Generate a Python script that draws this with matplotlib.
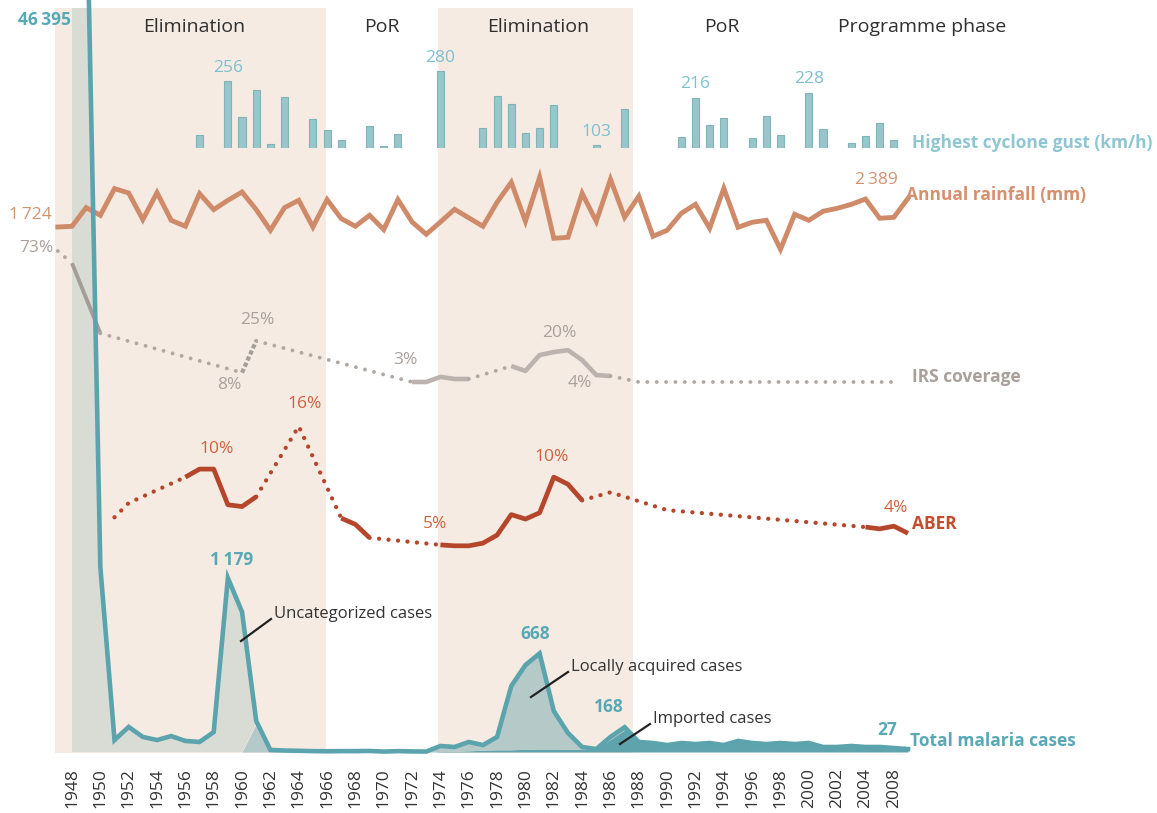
import numpy as np
import matplotlib
matplotlib.use("Agg")
import matplotlib.pyplot as plt
from matplotlib.lines import Line2D

plt.rcParams['font.family'] = ['Open Sans', 'DejaVu Sans']

# ---------------- data ----------------
rain_years = np.arange(1947, 2008)
rainfall_mm = [1724, 1741, 2185, 2002, 2636, 2532, 1900, 2541, 1883, 1741,
               2517, 2137, 2358, 2555, 2137, 1646, 2185, 2358, 1724, 2375,
               1923, 1741, 2002, 1662, 2375, 1843, 1551, 1843, 2144, 1942,
               1741, 2311, 2786, 1859, 2904, 1456, 1479, 2524, 1859, 2857,
               1954, 2453, 1503, 1646, 2049, 2263, 1693, 2643, 1717, 1836,
               1883, 1194, 2026, 1883, 2097, 2168, 2263, 2389, 1931, 1954,
               2406]

gust_years = [1957, 1959, 1960, 1961, 1962, 1963, 1965, 1966, 1967, 1969,
              1970, 1971, 1974, 1977, 1978, 1979, 1980, 1981, 1982, 1985,
              1987, 1991, 1992, 1993, 1994, 1996, 1997, 1998, 2000, 2001,
              2003, 2004, 2005, 2006]
gust_kmh = [127, 256, 170, 235, 106, 218, 166, 139, 115, 149,
            101, 130, 280, 144, 221, 202, 133, 144, 198, 103,
            190, 122, 216, 152, 169, 119, 172, 128, 228, 142,
            109, 124, 157, 114]
gust_labelled = [1959, 1974, 1985, 1992, 2000]

case_years = np.arange(1948, 2008)
total_cases = [46395, 6000, 1253, 81, 170, 102, 81, 108, 75, 68,
               135, 1179, 949, 210, 14, 10, 8, 6, 5, 6,
               6, 7, 3, 6, 4, 3, 41, 34, 68, 47,
               102, 447, 589, 668, 278, 129, 34, 20, 102, 168,
               68, 61, 47, 61, 54, 61, 47, 75, 61, 54,
               61, 54, 61, 34, 34, 41, 34, 34, 27, 20]
uncategorized = [46395, 6000, 1253, 81, 170, 102, 81, 108, 75, 68,
                 135, 1179, 949, 20, 0, 0, 0, 0, 0, 0,
                 0, 0, 0, 0, 0, 0, 0, 0, 0, 0,
                 0, 0, 0, 0, 0, 0, 0, 0, 0, 0,
                 0, 0, 0, 0, 0, 0, 0, 0, 0, 0,
                 0, 0, 0, 0, 0, 0, 0, 0, 0, 0]
locally_acquired = [0, 0, 0, 0, 0, 0, 0, 0, 0, 0,
                    0, 0, 0, 190, 14, 10, 8, 6, 5, 6,
                    6, 7, 3, 6, 4, 3, 38, 29, 60, 35,
                    87, 432, 571, 648, 258, 111, 14, 2, 17, 18,
                    0, 0, 0, 0, 0, 0, 0, 0, 0, 0,
                    0, 0, 0, 0, 0, 0, 0, 0, 0, 0]
imported_cases = [0, 0, 0, 0, 0, 0, 0, 0, 0, 0,
                  0, 0, 0, 0, 0, 0, 0, 0, 0, 0,
                  0, 0, 0, 0, 0, 0, 3, 5, 8, 12,
                  15, 15, 18, 20, 20, 18, 20, 18, 85, 150,
                  68, 61, 47, 61, 54, 61, 47, 75, 61, 54,
                  61, 54, 61, 34, 34, 41, 34, 34, 27, 20]

irs_years = [1947, 1948, 1950, 1960, 1961, 1972, 1973, 1974, 1975, 1976,
             1979, 1980, 1981, 1982, 1983, 1984, 1985, 1986, 1988, 2006]
irs_pct = [73, 66.5, 29, 8, 25, 3, 3, 5.7, 4.6, 4.6,
           11.5, 8.9, 17.4, 19, 20, 14.7, 6.7, 6.2, 3, 3]
irs_segment = ['dot', 'dark', 'dot', 'dash', 'dot', 'solid', 'solid', 'solid',
               'solid', 'dot', 'solid', 'solid', 'solid', 'solid', 'solid',
               'solid', 'solid', 'dot', 'dot']

aber_years = [1951, 1952, 1956, 1957, 1958, 1959, 1960, 1961, 1964, 1967,
              1968, 1969, 1974, 1975, 1976, 1977, 1978, 1979, 1980, 1981,
              1982, 1983, 1984, 1986, 1990, 2004, 2005, 2006, 2007]
aber_pct = [5.8, 7.4, 10.3, 11.2, 11.2, 7.2, 7.0, 8.1, 16.0, 5.7,
            5.0, 3.5, 2.7, 2.6, 2.6, 2.9, 3.8, 6.1, 5.6, 6.3,
            10.3, 9.5, 7.7, 8.6, 6.6, 4.7, 4.5, 4.8, 4.0]
aber_measured = [0, 0, 1, 1, 1, 1, 1, 1, 0, 1,
                 1, 1, 1, 1, 1, 1, 1, 1, 1, 1,
                 1, 1, 1, 0, 0, 1, 1, 1, 1]

phase_names = ['Elimination', 'PoR', 'Elimination', 'PoR', 'Programme phase']
elim_spans = [(1946.8, 1965.9), (1973.8, 1987.6)]

tick_years = list(range(1948, 2007, 2))
tick_labels = [str(y) for y in range(1948, 2005, 2)] + ['2008']

# ---------------- layout helpers ----------------
W, H = 1157, 813
fig = plt.figure(figsize=(W / 100, H / 100), dpi=100)
XL, XR = 1946.5, 2008.5
PXL = 72 - 1.5 * 14.17
PXR = 72 + 60.5 * 14.17


def add_ax(ytop, ybot):
    ax = fig.add_axes([PXL / W, 1 - ybot / H, (PXR - PXL) / W, (ybot - ytop) / H])
    ax.set_xlim(XL, XR)
    ax.patch.set_alpha(0)
    for s in ax.spines.values():
        s.set_visible(False)
    ax.set_yticks([])
    ax.set_xticks([])
    return ax


def ptext(x, y, s, **kw):
    kw.setdefault('va', 'center')
    kw.setdefault('ha', 'center')
    fig.text(x / W, 1 - y / H, s, **kw)


def pline(x0, y0, x1, y1, **kw):
    fig.add_artist(Line2D([x0 / W, x1 / W], [1 - y0 / H, 1 - y1 / H],
                          transform=fig.transFigure, **kw))


def styled_segments(ax, xs, ys, styles, spec):
    i = 0
    n = len(styles)
    while i < n:
        j = i
        while j + 1 < n and styles[j + 1] == styles[i]:
            j += 1
        ax.plot(xs[i:j + 2], ys[i:j + 2], **spec[styles[i]])
        i = j + 1


# ---------------- base (phases + axis) ----------------
base = add_ax(8, 753)
base.set_ylim(0, 1)
for a, b in elim_spans:
    base.axvspan(a, b, color='#f5ebe2', lw=0, zorder=0)
base.set_xticks(tick_years)
base.set_xticklabels(tick_labels, rotation=90, fontsize=12.5, color='#333333')
base.tick_params(axis='x', length=0, pad=11)

phase_x = [194, 382, 538, 722, 922]
for name, x in zip(phase_names, phase_x):
    ptext(x, 27, name, fontsize=14, color='#2f2f2f')

# ---------------- malaria case fills ----------------
TEAL = '#5ba4ad'
cases_fill = add_ax(8, 752)
cases_fill.set_ylim(0, 744 / 0.1476)
imp = np.array(imported_cases, float)
loc = imp + np.array(locally_acquired, float)
unc = loc + np.array(uncategorized, float)
cases_fill.fill_between(case_years, 0, imp, color='#5fa4ac', lw=0)
cases_fill.fill_between(case_years, imp, loc, color='#b5c9c9', lw=0)
cases_fill.fill_between(case_years, loc, unc, color='#d9dbd5', lw=0)

# ---------------- cyclone gust bars ----------------
bars = add_ax(40, 148)
bars.set_ylim(96, 96 + 108 / 0.4167)
bars.bar(gust_years, gust_kmh, width=0.5, color='#98c6ca', edgecolor='#80b4b9', lw=0.8)
for y, v in zip(gust_years, gust_kmh):
    if y in gust_labelled:
        bars.annotate(str(v), (y, v), xytext=(0, 4), textcoords='offset points',
                      ha='center', va='bottom', fontsize=12.5, color='#7fbfcf')
ptext(912, 143, 'Highest cyclone gust (km/h)', ha='left', fontsize=12.5,
      fontweight='bold', color='#8fc6d2')

# ---------------- rainfall ----------------
RAIN = '#cf8b69'
rain = add_ax(160, 260)
rain.set_ylim(1724 - (260 - 227) / 0.0421, 1724 + (227 - 160) / 0.0421)
rain.plot(rain_years, rainfall_mm, color=RAIN, lw=3.5, solid_joinstyle='miter')
ptext(52, 215, '1\u2009724', ha='right', fontsize=12.5, color='#d4916f')
ptext(876, 180, '2\u2009389', fontsize=12.5, color='#d4916f')
ptext(906, 195, 'Annual rainfall (mm)', ha='left', fontsize=12.5,
      fontweight='bold', color='#d4916f')

# ---------------- IRS coverage ----------------
irs = add_ax(240, 400)
irs.set_ylim(-(400 - 387.6) / 1.871, (387.6 - 240) / 1.871)
irs_spec = {
    'dot': dict(color='#b0a8a3', lw=2.8, linestyle=(0, (0.01, 2.4)), dash_capstyle='round'),
    'solid': dict(color='#bcb3ae', lw=3.3, solid_capstyle='butt'),
    'dark': dict(color='#a49c97', lw=2.8, solid_capstyle='butt'),
    'dash': dict(color='#a49c97', lw=3.0, linestyle=(0, (1.0, 0.6))),
}
styled_segments(irs, irs_years, irs_pct, irs_segment, irs_spec)
for (x, y, s) in [(36, 248, '73%'), (257, 320, '25%'), (229, 385, '8%'),
                  (405, 360, '3%'), (559, 333, '20%'), (580, 383, '4%')]:
    ptext(x, y, s, fontsize=12.5, color='#aaa19c')
ptext(912, 377, 'IRS coverage', ha='left', fontsize=12.5, fontweight='bold', color='#a9a09b')

# ---------------- ABER ----------------
ABER = '#b5462b'
aber = add_ax(400, 580)
aber.set_ylim(-(580 - 569) / 8.92, (569 - 400) / 8.92)
aber_style = []
for k in range(len(aber_years) - 1):
    ok = aber_measured[k] and aber_measured[k + 1] and aber_years[k + 1] - aber_years[k] == 1
    aber_style.append('solid' if ok else 'dot')
aber_spec = {
    'dot': dict(color=ABER, lw=3.1, linestyle=(0, (0.01, 2.2)), dash_capstyle='round'),
    'solid': dict(color=ABER, lw=3.4, solid_capstyle='butt'),
}
styled_segments(aber, aber_years, aber_pct, aber_style, aber_spec)
for (x, y, s) in [(217, 449, '10%'), (305, 404, '16%'), (435, 524, '5%'),
                  (552, 457, '10%'), (896, 508, '4%')]:
    ptext(x, y, s, fontsize=12.5, color='#d2603e')
ptext(912, 524, 'ABER', ha='left', fontsize=12.5, fontweight='bold', color='#c44c2c')

# ---------------- total malaria cases line ----------------
cases_line = add_ax(8, 752)
cases_line.set_ylim(0, 744 / 0.1476)
cases_line.plot(case_years, total_cases, color=TEAL, lw=3.3, clip_on=False,
                solid_joinstyle='miter')
for (x, y, s) in [(44, 20, '46\u2009395'), (232, 560, '1\u2009179'), (535, 634, '668'),
                  (609, 707, '168'), (887, 730, '27')]:
    ptext(x, y, s, fontsize=12.5, fontweight='bold', color='#58a9b5')
ptext(910, 741, 'Total malaria cases', ha='left', fontsize=12.5,
      fontweight='bold', color='#58a9b5')

# annotations
for (tx, ty, s, x0, y0, x1, y1) in [
        (274, 614, 'Uncategorized cases', 271, 619, 241, 641),
        (571, 667, 'Locally acquired cases', 568, 672, 531, 697),
        (653, 719, 'Imported cases', 650, 724, 620, 744)]:
    ptext(tx, ty, s, ha='left', fontsize=12, color='#333333')
    pline(x0, y0, x1, y1, color='#222222', lw=1.6)

fig.savefig('out.png', dpi=100)
